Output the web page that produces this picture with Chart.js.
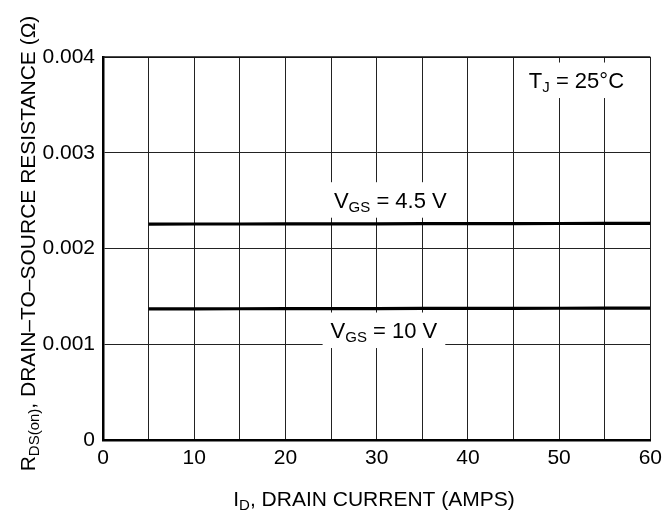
<!DOCTYPE html>
<html>
<head>
<meta charset="utf-8">
<script src="https://cdn.jsdelivr.net/npm/chart.js@4/dist/chart.umd.min.js"></script>
<style>
  html, body { margin: 0; padding: 0; background: #fff; }
  #graph { display: block; }
</style>
</head>
<body>
<canvas id="graph" width="668" height="517"></canvas>
<script>
const FONT = "'Liberation Sans', Arial, Helvetica, sans-serif"

// drain current, amps
const currentAmps = [5, 10, 15, 20, 25, 30, 35, 40, 45, 50, 55, 60]
// RDS(on) in ohms
const rdsVgs45 = [0.002255, 0.002256, 0.002256, 0.002257, 0.002258, 0.002258, 0.002259, 0.00226, 0.00226, 0.002261, 0.002262, 0.002263]
const rdsVgs10 = [0.00137, 0.00137, 0.001371, 0.001372, 0.001372, 0.001373, 0.001374, 0.001374, 0.001375, 0.001376, 0.001377, 0.001378]

const yTickValues = [0, 0.001, 0.002, 0.003, 0.004]
const xTickLabels = ['0', '10', '20', '30', '40', '50', '60']

// text boxes on the plot, placed in data units
const notes = [
    { x: 31.5, y: 0.002426, parts: [['V'], ['GS', 1], [' = 4.5 V']], padX: 12, padY: 10 },
    { x: 30.8, y: 0.001065, parts: [['V'], ['GS', 1], [' = 10 V']], padX: 8, padY: 10 },
    { x: 51.9, y: 0.003676, parts: [['T'], ['J', 1], [' = 25°C']], padX: 6, padY: 10 }
]

function partFont(p, size, subSize) {
    return (p[1] ? subSize : size) + 'px ' + FONT
}

function richWidth(ctx, parts, size, subSize) {
    let w = 0
    parts.forEach(p => { ctx.font = partFont(p, size, subSize); w += ctx.measureText(p[0]).width })
    return w
}

function richText(ctx, parts, x, y, size, subSize, drop) {
    parts.forEach(p => {
        ctx.font = partFont(p, size, subSize)
        ctx.fillText(p[0], x, p[1] ? y + drop : y)
        x += ctx.measureText(p[0]).width
    })
}

const extras = {
    id: 'extras',
    afterDatasetsDraw(chart) {
        const ctx = chart.ctx
        const xs = chart.scales.x, ys = chart.scales.y
        const area = chart.chartArea
        ctx.save()
        ctx.textBaseline = 'alphabetic'
        ctx.textAlign = 'left'

        // top border
        ctx.strokeStyle = '#111'
        ctx.lineWidth = 1.5
        ctx.beginPath()
        ctx.moveTo(area.left, area.top)
        ctx.lineTo(area.right, area.top)
        ctx.stroke()

        // labels inside the plot
        notes.forEach(n => {
            const w = richWidth(ctx, n.parts, 22, 15)
            const cx = xs.getPixelForValue(n.x)
            const by = ys.getPixelForValue(n.y)
            const left = cx - w / 2
            ctx.fillStyle = '#fff'
            ctx.fillRect(left - n.padX, by - 15.5 - n.padY, w + 2 * n.padX, 15.5 + 2 * n.padY)
            ctx.fillStyle = '#000'
            richText(ctx, n.parts, left, by, 22, 15, 4)
        })

        // x axis title
        const xt = [['I'], ['D', 1], [', DRAIN CURRENT (AMPS)']]
        const xw = richWidth(ctx, xt, 21, 15)
        richText(ctx, xt, 374 - xw / 2, 506, 21, 15, 4)

        // y axis title
        const yt = [['R'], ['DS(on)', 1], [', DRAIN\u2013TO\u2013SOURCE RESISTANCE (\u03A9)']]
        const yw = richWidth(ctx, yt, 21, 15)
        ctx.translate(35, 243.5)
        ctx.rotate(-Math.PI / 2)
        richText(ctx, yt, -yw / 2, 0, 21, 15, 4)
        ctx.restore()
    }
}

const data = {
    datasets: [
        {
            label: 'VGS = 4.5 V',
            data: currentAmps.map((a, i) => ({ x: a, y: rdsVgs45[i] })),
            borderColor: '#000',
            borderWidth: 3.2,
            pointRadius: 0,
            tension: 0
        },
        {
            label: 'VGS = 10 V',
            data: currentAmps.map((a, i) => ({ x: a, y: rdsVgs10[i] })),
            borderColor: '#000',
            borderWidth: 3.2,
            pointRadius: 0,
            tension: 0
        }
    ]
}

const config = {
    type: 'line',
    data: data,
    plugins: [extras],
    options: {
        responsive: false,
        animation: false,
        layout: { padding: { top: 57, right: 16, left: 0, bottom: 0 } },
        plugins: { legend: { display: false }, tooltip: { enabled: false } },
        scales: {
            x: {
                type: 'linear',
                min: 0,
                max: 60,
                afterFit: s => { s.height = 77 },
                border: { color: '#000', width: 2.5 },
                grid: { color: '#222', lineWidth: 1, drawTicks: false },
                ticks: {
                    stepSize: 5,
                    padding: 6,
                    color: '#000',
                    maxRotation: 0,
                    autoSkip: false,
                    font: { family: FONT, size: 21 },
                    callback: v => xTickLabels.includes(String(v)) ? String(v) : ''
                }
            },
            y: {
                min: 0,
                max: 0.004,
                afterFit: s => { s.width = 103 },
                afterBuildTicks: s => { s.ticks = yTickValues.map(v => ({ value: v })) },
                border: { color: '#000', width: 2.5 },
                grid: { color: '#222', lineWidth: 1, drawTicks: false },
                ticks: {
                    padding: 8,
                    color: '#000',
                    font: { family: FONT, size: 21 },
                    callback: v => v === 0 ? '0' : v.toFixed(3)
                }
            }
        }
    }
}

const graph = new Chart(document.getElementById('graph').getContext('2d'), config)
</script>
</body>
</html>
